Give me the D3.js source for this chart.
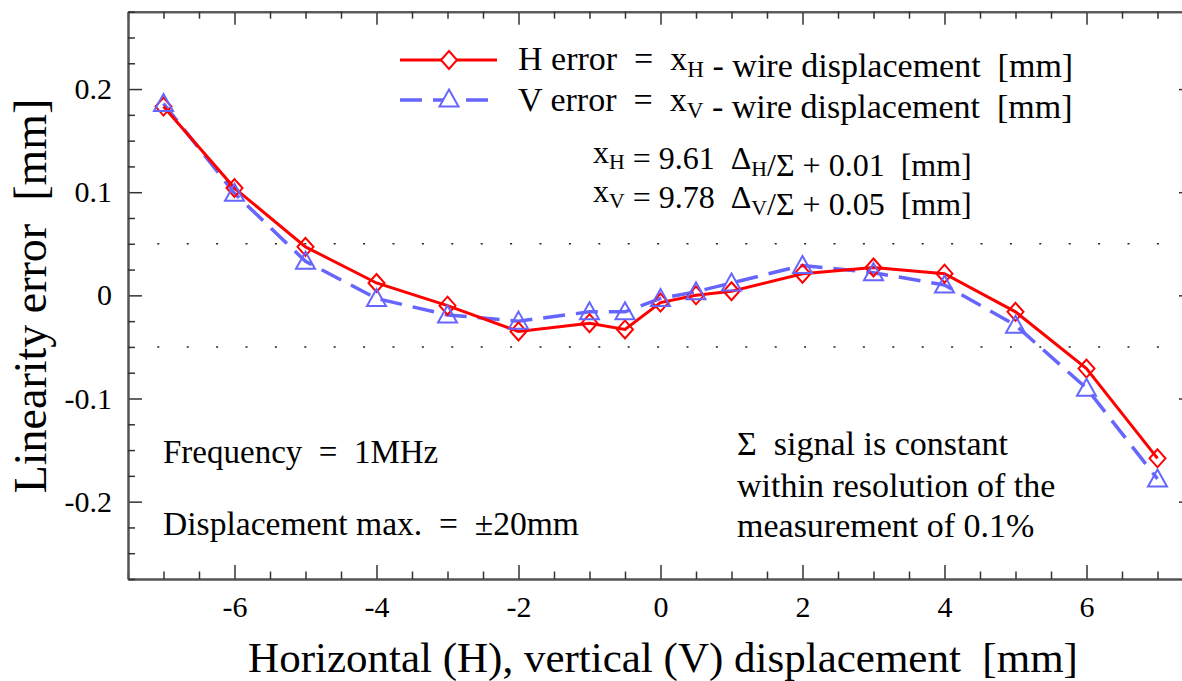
<!DOCTYPE html>
<html>
<head>
<meta charset="utf-8">
<script src="https://cdn.jsdelivr.net/npm/d3@7"></script>
<style>
  html, body { margin: 0; padding: 0; background: #fff; }
  svg { display: block; }
  svg text, svg tspan { font-family: "Liberation Serif", "Times New Roman", Times, serif !important; fill: #000; white-space: pre; }
</style>
</head>
<body>
<svg id="chart" width="1182" height="681"></svg>
<script>
// ---------------- data ----------------
const positions = [-7, -6, -5, -4, -3, -2, -1, -0.5, 0, 0.5, 1, 2, 3, 4, 5, 6, 7];
const hError = [0.183, 0.104, 0.047, 0.012, -0.010, -0.035, -0.027, -0.033, -0.007, 0.000, 0.004, 0.021, 0.027, 0.021, -0.016, -0.071, -0.158];
const vError = [0.186, 0.099, 0.033, -0.003, -0.019, -0.025, -0.016, -0.016, -0.003, 0.0035, 0.012, 0.029, 0.022, 0.010, -0.029, -0.090, -0.178];
const xMajorTicks = [-6, -4, -2, 0, 2, 4, 6];
const xTickLabels = ["-6", "-4", "-2", "0", "2", "4", "6"];
const yMajorTicks = [-0.2, -0.1, 0, 0.1, 0.2];
const yTickLabels = ["-0.2", "-0.1", "0", "0.1", "0.2"];
const yGridDotted = [-0.05, 0.05];
const xDomain = [-7.5, 7.5];
const yDomain = [-0.275, 0.275];

// ---------------- setup ----------------
const FONT = "'Liberation Serif', 'Times New Roman', Times, serif";
const svg = d3.select("#chart");
const L = 128, R = 1193, T = 11.7, B = 579;
const x = d3.scaleLinear().domain(xDomain).range([L, R]);
const y = d3.scaleLinear().domain(yDomain).range([B, T]);

const xMinor = d3.range(-7.5, 7.51, 0.5).filter(v => !xMajorTicks.includes(v));
const yMinor = d3.range(-0.275, 0.2751, 0.025).map(v => +v.toFixed(3)).filter(v => !yMajorTicks.some(t => Math.abs(t - v) < 1e-9));

const axisColor = "#555";

// dotted grid lines
svg.append("g").selectAll("line").data(yGridDotted).join("line")
  .attr("x1", 157.3).attr("x2", 1162)
  .attr("y1", d => y(d)).attr("y2", d => y(d))
  .attr("stroke", "#222").attr("stroke-width", 1.5)
  .attr("stroke-dasharray", "2,27.4");

function styleAxis(g) {
  g.attr("font-family", FONT);
  g.select(".domain").attr("stroke", axisColor).attr("stroke-width", 2);
  g.selectAll(".tick line").attr("stroke", "#333").attr("stroke-width", 1.5);
  g.selectAll("text").style("font-family", FONT).attr("fill", "#000");
}

// bottom axis
const xLabelMap = new Map(xMajorTicks.map((v, i) => [v, xTickLabels[i]]));
svg.append("g").attr("transform", `translate(0,${B})`)
  .call(d3.axisBottom(x).tickValues(xMajorTicks).tickSize(-14).tickSizeOuter(0).tickPadding(17)
    .tickFormat(d => xLabelMap.get(d)))
  .call(styleAxis)
  .call(g => g.selectAll("text").attr("font-size", 30));
svg.append("g").attr("transform", `translate(0,${B})`)
  .call(d3.axisBottom(x).tickValues(xMinor).tickSize(-7.5).tickSizeOuter(0).tickFormat(""))
  .call(styleAxis);

// top axis
svg.append("g").attr("transform", `translate(0,${T})`)
  .call(d3.axisTop(x).tickValues(xMajorTicks).tickSize(-13).tickSizeOuter(0).tickFormat(""))
  .call(styleAxis);
svg.append("g").attr("transform", `translate(0,${T})`)
  .call(d3.axisTop(x).tickValues(xMinor).tickSize(-7).tickSizeOuter(0).tickFormat(""))
  .call(styleAxis);

// left axis
const yLabelMap = new Map(yMajorTicks.map((v, i) => [v, yTickLabels[i]]));
svg.append("g").attr("transform", `translate(${L},0)`)
  .call(d3.axisLeft(y).tickValues(yMajorTicks).tickSize(-14).tickSizeOuter(0).tickPadding(16)
    .tickFormat(d => yLabelMap.get(d)))
  .call(styleAxis)
  .call(g => g.selectAll("text").attr("font-size", 30));
svg.append("g").attr("transform", `translate(${L},0)`)
  .call(d3.axisLeft(y).tickValues(yMinor).tickSize(-7).tickSizeOuter(0).tickFormat(""))
  .call(styleAxis);

// right axis
svg.append("g").attr("transform", `translate(${R},0)`)
  .call(d3.axisRight(y).tickValues(yMajorTicks).tickSize(-14).tickSizeOuter(0).tickFormat(""))
  .call(styleAxis);
svg.append("g").attr("transform", `translate(${R},0)`)
  .call(d3.axisRight(y).tickValues(yMinor).tickSize(-7).tickSizeOuter(0).tickFormat(""))
  .call(styleAxis);

// ---------------- series ----------------
const red = "#ff0000", blue = "#6666ff";
const hData = positions.map((p, i) => [p, hError[i]]);
const vData = positions.map((p, i) => [p, vError[i]]);
const line = d3.line().x(d => x(d[0])).y(d => y(d[1]));

svg.append("path").datum(vData).attr("d", line)
  .attr("fill", "none").attr("stroke", blue).attr("stroke-width", 3.5)
  .attr("stroke-dasharray", "22,11");
svg.append("path").datum(hData).attr("d", line)
  .attr("fill", "none").attr("stroke", red).attr("stroke-width", 3);

const diamond = "M0,-9L8,0L0,9L-8,0Z";
const triangle = "M0,-9.5L9.5,7.5L-9.5,7.5Z";

svg.append("g").selectAll("path").data(hData).join("path")
  .attr("d", diamond)
  .attr("transform", d => `translate(${x(d[0])},${y(d[1])})`)
  .attr("fill", "none").attr("stroke", red).attr("stroke-width", 2);
svg.append("g").selectAll("path").data(vData).join("path")
  .attr("d", triangle)
  .attr("transform", d => `translate(${x(d[0])},${y(d[1])})`)
  .attr("fill", "none").attr("stroke", blue).attr("stroke-width", 2);

// ---------------- legend ----------------
const lg = svg.append("g");
lg.append("line").attr("x1", 400).attr("x2", 497).attr("y1", 60).attr("y2", 60)
  .attr("stroke", red).attr("stroke-width", 3);
lg.append("path").attr("d", diamond).attr("transform", "translate(449,60)")
  .attr("fill", "#fff").attr("stroke", red).attr("stroke-width", 2);
lg.append("line").attr("x1", 400).attr("x2", 489).attr("y1", 100).attr("y2", 100)
  .attr("stroke", blue).attr("stroke-width", 3.5).attr("stroke-dasharray", "22,11");
lg.append("path").attr("d", triangle).attr("transform", "translate(449,99)")
  .attr("fill", "#fff").attr("stroke", blue).attr("stroke-width", 2);

function subText(g, xPos, yPos, size, parts) {
  const t = g.append("text").attr("x", xPos).attr("y", yPos).attr("font-size", size)
    .style("font-family", FONT);
  parts.forEach(p => {
    if (p.sub) {
      t.append("tspan").attr("font-size", size * 0.68).attr("dy", size * 0.2).text(p.sub);
      t.append("tspan").attr("dy", -size * 0.2).text("");
    } else {
      t.append("tspan").text(p.t);
    }
  });
  return t;
}

subText(lg, 518, 70, 34, [{t: "H error  =  x"}, {sub: "H"}, {t: " - wire displacement  [mm]"}]);
subText(lg, 518, 111, 34, [{t: "V error  =  x"}, {sub: "V"}, {t: " - wire displacement  [mm]"}]);

// formula
subText(svg, 593, 163, 32, [{t: "x"}, {sub: "H"}, {t: " = 9.61  \u0394"}, {sub: "H"}, {t: "/\u03A3 + 0.01  [mm]"}]);
subText(svg, 593, 202, 32, [{t: "x"}, {sub: "V"}, {t: " = 9.78  \u0394"}, {sub: "V"}, {t: "/\u03A3 + 0.05  [mm]"}]);

// annotations
function plain(xPos, yPos, size, str, anchor) {
  return svg.append("text").attr("x", xPos).attr("y", yPos).attr("font-size", size)
    .attr("text-anchor", anchor || "start").style("font-family", FONT).text(str);
}
plain(163, 463, 33, "Frequency  =  1MHz");
plain(163, 535, 33.6, "Displacement max.  =  \u00B120mm");
plain(737, 455, 34, "\u03A3  signal is constant");
plain(737, 497, 34, "within resolution of the");
plain(737, 537, 34, "measurement of 0.1%");

// axis titles
plain(663, 672, 43, "Horizontal (H), vertical (V) displacement  [mm]", "middle");
svg.append("text").attr("transform", "translate(46,296) rotate(-90)").attr("text-anchor", "middle")
  .attr("font-size", 46).style("font-family", FONT).text("Linearity error  [mm]");
</script>
</body>
</html>
